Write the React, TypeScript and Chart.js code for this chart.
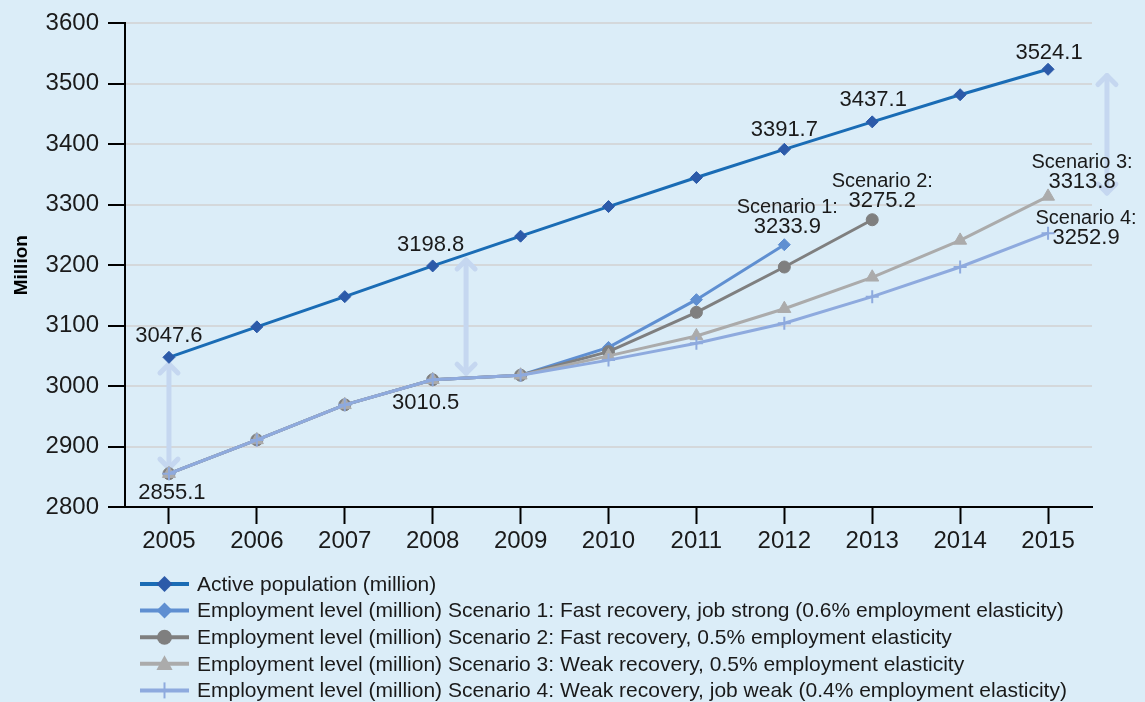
import React, { useEffect, useRef } from "react";
import { Chart, registerables } from "chart.js";

Chart.register(...registerables);

// ---------- data ----------
const years = ["2005", "2006", "2007", "2008", "2009", "2010", "2011", "2012", "2013", "2014", "2015"];
const activePopulation = [3047.6, 3098, 3148, 3198.8, 3248, 3297, 3345, 3391.7, 3437.1, 3482, 3524.1];
const scenario1 = [2855.1, 2911, 2969, 3010.5, 3018, 3064, 3143, 3233.9, null, null, null];
const scenario2 = [2855.1, 2911, 2969, 3010.5, 3018, 3057, 3122, 3197, 3275.2, null, null];
const scenario3 = [2855.1, 2911, 2969, 3010.5, 3018, 3050, 3083, 3128, 3180, 3241, 3313.8];
const scenario4 = [2855.1, 2911, 2969, 3010.5, 3018, 3043, 3071, 3104, 3148, 3197, 3252.9];
const seriesLabels = [
  "Active population (million)",
  "Employment level (million) Scenario 1: Fast recovery, job strong (0.6% employment elasticity)",
  "Employment level (million) Scenario 2: Fast recovery, 0.5% employment elasticity",
  "Employment level (million) Scenario 3: Weak recovery, 0.5% employment elasticity",
  "Employment level (million) Scenario 4: Weak recovery, job weak (0.4% employment elasticity)",
];
const yMin = 2800;
const yMax = 3600;
const yStep = 100;
const yTitle = "Million";

// value labels: text lines, anchored at (category index, value)
const valueLabels = [
  { lines: ["3047.6"], index: 0, value: 3047.6, dx: 0, dy: -21 },
  { lines: ["2855.1"], index: 0, value: 2855.1, dx: 3, dy: 19 },
  { lines: ["3198.8"], index: 3, value: 3198.8, dx: -2, dy: -21 },
  { lines: ["3010.5"], index: 3, value: 3010.5, dx: -7, dy: 23 },
  { lines: ["3391.7"], index: 7, value: 3391.7, dx: 0, dy: -19 },
  { lines: ["3437.1"], index: 8, value: 3437.1, dx: 1, dy: -22 },
  { lines: ["3524.1"], index: 10, value: 3524.1, dx: 1, dy: -16 },
  { lines: ["Scenario 1:", "3233.9"], index: 7, value: 3233.9, dx: 3, dy: -37 },
  { lines: ["Scenario 2:", "3275.2"], index: 8, value: 3275.2, dx: 10, dy: -38 },
  { lines: ["Scenario 3:", "3313.8"], index: 10, value: 3313.8, dx: 34, dy: -34 },
  { lines: ["Scenario 4:", "3252.9"], index: 10, value: 3252.9, dx: 38, dy: -15 },
];
// gap arrows: (category position, from value, to value)
const gapArrows = [
  { index: 0, from: 3040, to: 2861 },
  { index: 3.38, from: 3212, to: 3018 },
  { index: 10.67, from: 3517, to: 3316 },
];

const FONT = "'Liberation Sans', Arial, sans-serif";
const colors = {
  bg: "#dbedf8",
  grid: "#d4d8db",
  active: "#1a6cb5",
  activeMarker: "#2c5aa9",
  s1: "#5f8fd1",
  s2: "#7f7f7f",
  s3: "#ababab",
  s4: "#8eaade",
  arrow: "#c5d7f0",
  text: "#1a1a1a",
};

function drawMarker(ctx: CanvasRenderingContext2D, style: string, x: number, y: number, r: number, color: string) {
  ctx.save();
  ctx.fillStyle = color;
  ctx.strokeStyle = color;
  ctx.beginPath();
  if (style === "rectRot") {
    ctx.moveTo(x - r, y);
    ctx.lineTo(x, y - r);
    ctx.lineTo(x + r, y);
    ctx.lineTo(x, y + r);
    ctx.closePath();
    ctx.fill();
  } else if (style === "circle") {
    ctx.arc(x, y, r, 0, Math.PI * 2);
    ctx.fill();
  } else if (style === "triangle") {
    ctx.moveTo(x, y - r);
    ctx.lineTo(x + r * 0.95, y + r * 0.5 + 2);
    ctx.lineTo(x - r * 0.95, y + r * 0.5 + 2);
    ctx.closePath();
    ctx.fill();
  } else if (style === "cross") {
    ctx.lineWidth = 2;
    ctx.moveTo(x, y - r);
    ctx.lineTo(x, y + r);
    ctx.stroke();
  }
  ctx.restore();
}

export default function App() {
  const ref = useRef<HTMLCanvasElement | null>(null);

  useEffect(() => {
    const canvas = ref.current;
    if (!canvas) return;

    const bgPlugin = {
      id: "bg",
      beforeDraw(chart: any) {
        const { ctx, width, height } = chart;
        ctx.save();
        ctx.fillStyle = colors.bg;
        ctx.fillRect(0, 0, width, height);
        ctx.restore();
      },
    };

    const arrowPlugin = {
      id: "arrows",
      beforeDatasetsDraw(chart: any) {
        const { ctx, scales } = chart;
        ctx.save();
        ctx.strokeStyle = colors.arrow;
        ctx.lineWidth = 5;
        ctx.lineCap = "round";
        ctx.lineJoin = "round";
        for (const a of gapArrows) {
          const x = scales.x.getPixelForValue(a.index);
          const y1 = scales.y.getPixelForValue(a.from);
          const y2 = scales.y.getPixelForValue(a.to);
          ctx.beginPath();
          ctx.moveTo(x, y1 + 2);
          ctx.lineTo(x, y2 - 2);
          ctx.stroke();
          const h = 9;
          ctx.beginPath();
          ctx.moveTo(x - h, y1 + h + 2);
          ctx.lineTo(x, y1 + 2);
          ctx.lineTo(x + h, y1 + h + 2);
          ctx.stroke();
          ctx.beginPath();
          ctx.moveTo(x - h, y2 - h - 2);
          ctx.lineTo(x, y2 - 2);
          ctx.lineTo(x + h, y2 - h - 2);
          ctx.stroke();
        }
        ctx.restore();
      },
    };

    const labelPlugin = {
      id: "valueLabels",
      afterDatasetsDraw(chart: any) {
        const { ctx, scales } = chart;
        ctx.save();
        ctx.fillStyle = colors.text;
        ctx.textAlign = "center";
        ctx.textBaseline = "middle";
        for (const l of valueLabels) {
          const x = scales.x.getPixelForValue(l.index) + l.dx;
          const y = scales.y.getPixelForValue(l.value) + l.dy;
          l.lines.forEach((t, i) => {
            ctx.font = t.startsWith("Scenario") ? `20px ${FONT}` : `22px ${FONT}`;
            ctx.fillText(t, x, y + i * 19.5);
          });
        }
        ctx.restore();
      },
    };

    const legendPlugin = {
      id: "customLegend",
      afterDraw(chart: any) {
        const { ctx } = chart;
        const startY = 584;
        const rowH = 26.6;
        ctx.save();
        chart.data.datasets.forEach((ds: any, i: number) => {
          const y = startY + i * rowH;
          ctx.strokeStyle = ds.borderColor;
          ctx.lineWidth = 4;
          ctx.beginPath();
          ctx.moveTo(140, y);
          ctx.lineTo(189, y);
          ctx.stroke();
          const r = ds.pointStyle === "circle" ? 7.5 : ds.pointStyle === "triangle" ? 8.5 : 8;
          drawMarker(ctx, ds.pointStyle, 164.5, y, r, ds.pointBackgroundColor);
          ctx.fillStyle = colors.text;
          ctx.font = `21px ${FONT}`;
          ctx.textAlign = "left";
          ctx.textBaseline = "middle";
          ctx.fillText(ds.label, 197, y + 1);
        });
        ctx.restore();
      },
    };

    const mk = (label: string, data: (number | null)[], line: string, marker: string, style: string, radius: number, order: number) => ({
      label,
      data,
      borderColor: line,
      backgroundColor: marker,
      borderWidth: 3,
      pointStyle: style,
      pointRadius: radius,
      pointHoverRadius: radius,
      pointBackgroundColor: marker,
      pointBorderColor: marker,
      pointBorderWidth: style === "cross" ? 2 : 1,
      spanGaps: false,
      order,
      clip: false,
    });

    const chart = new Chart(canvas, {
      type: "line",
      data: {
        labels: years,
        datasets: [
          mk(seriesLabels[0], activePopulation, colors.active, colors.activeMarker, "rectRot", 6, 0),
          mk(seriesLabels[1], scenario1, colors.s1, colors.s1, "rectRot", 6, 4),
          mk(seriesLabels[2], scenario2, colors.s2, colors.s2, "circle", 6, 3),
          mk(seriesLabels[3], scenario3, colors.s3, colors.s3, "triangle", 7.5, 2),
          mk(seriesLabels[4], scenario4, colors.s4, colors.s4, "cross", 6.5, 1),
        ] as any,
      },
      options: {
        animation: false,
        responsive: false,
        maintainAspectRatio: false,
        layout: { padding: { top: 23, right: 53, bottom: 150, left: 0 } },
        plugins: { legend: { display: false }, tooltip: { enabled: false } },
        elements: { line: { tension: 0 } },
        scales: {
          x: {
            type: "category",
            offset: true,
            grid: {
              display: true,
              drawOnChartArea: false,
              drawTicks: true,
              tickLength: 17,
              tickColor: "#000",
              tickWidth: 2,
              offset: false,
            },
            border: { display: true, color: "#000", width: 2 },
            ticks: {
              font: { family: FONT, size: 24 },
              color: colors.text,
              padding: 3,
              maxRotation: 0,
              autoSkip: false,
            },
            afterFit: (s: any) => {
              s.height = 45;
            },
          },
          y: {
            min: yMin,
            max: yMax,
            ticks: {
              stepSize: yStep,
              font: { family: FONT, size: 24 },
              color: colors.text,
              padding: 9,
              callback: (v: any) => String(v),
            },
            grid: {
              color: colors.grid,
              lineWidth: 2,
              tickColor: "#000",
              tickLength: 17,
              tickWidth: 2,
            },
            border: { display: true, color: "#000", width: 2 },
            title: {
              display: true,
              text: yTitle,
              font: { family: FONT, size: 19, weight: "bold" },
              color: "#000",
              padding: { top: 10, bottom: 0 },
            },
            afterFit: (s: any) => {
              s.width = 125;
            },
          },
        },
      } as any,
      plugins: [bgPlugin, arrowPlugin, labelPlugin, legendPlugin],
    });

    return () => chart.destroy();
  }, []);

  return (
    <div style={{ position: "fixed", left: 0, top: 0, width: 1145, height: 702, background: colors.bg }}>
      <canvas ref={ref} width={1145} height={702} style={{ display: "block" }} />
    </div>
  );
}
